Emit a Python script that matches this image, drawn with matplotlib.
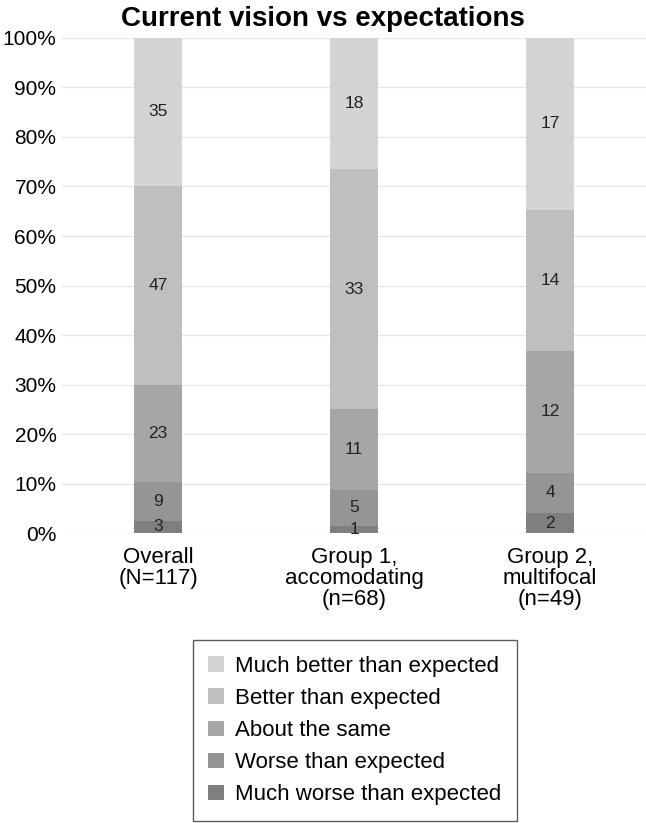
import numpy as np
import matplotlib
import matplotlib.pyplot as plt
matplotlib.use('agg')

plt.rcParams['font.family'] = ['Liberation Sans', 'DejaVu Sans']

# data, bottom to top
groups = ["Overall\n(N=117)", "Group 1,\naccomodating\n(n=68)", "Group 2,\nmultifocal\n(n=49)"]
categories = ["Much worse than expected", "Worse than expected", "About the same",
              "Better than expected", "Much better than expected"]
much_worse = [3, 1, 2]
worse = [9, 5, 4]
same = [23, 11, 12]
better = [47, 33, 14]
much_better = [35, 18, 17]
colors = ["#7f7f7f", "#959595", "#a6a6a6", "#bfbfbf", "#d4d4d4"]

counts = np.array([much_worse, worse, same, better, much_better], dtype=float)
pct = counts / counts.sum(axis=0) * 100

fig = plt.figure(figsize=(6.46, 8.23), dpi=100)
ax = fig.add_axes([0.096, 0.352, 0.904, 0.602])

x = np.arange(len(groups))
bottom = np.zeros(len(groups))
handles = []
for i, cat in enumerate(categories):
    h = ax.bar(x, pct[i], 0.245, bottom=bottom, color=colors[i], label=cat, zorder=2)
    handles.append(h)
    for j in range(len(groups)):
        ax.text(x[j], bottom[j] + pct[i][j] / 2, str(int(counts[i][j])),
                ha='center', va='center', fontsize=12.5, color='#222222', zorder=3)
    bottom += pct[i]

ax.set_xlim(-0.49, 2.49)
ax.set_ylim(0, 100)
ax.set_yticks(np.arange(0, 101, 10))
ax.set_yticklabels([f"{v}%" for v in range(0, 101, 10)], fontsize=15)
ax.set_xticks(x)
ax.set_xticklabels(groups, fontsize=16, linespacing=1.0)
ax.yaxis.grid(True, color='#e6e6e6', linewidth=1, zorder=0)
ax.tick_params(axis='y', length=0, pad=4)
ax.tick_params(axis='x', length=0, pad=10)
for s in ax.spines.values():
    s.set_visible(False)
fig.suptitle("Current vision vs expectations", x=0.5, y=0.993, va='top',
             fontsize=20, fontweight='bold')

leg = fig.legend(handles[::-1], categories[::-1], loc='lower center',
                 bbox_to_anchor=(0.549, -0.011), fontsize=16, frameon=True,
                 fancybox=False, edgecolor='#333333', handlelength=0.7,
                 handleheight=0.7, handletextpad=0.5, labelspacing=0.5,
                 borderpad=0.7)
leg.get_frame().set_linewidth(1)

plt.savefig("out.png", dpi=100)
